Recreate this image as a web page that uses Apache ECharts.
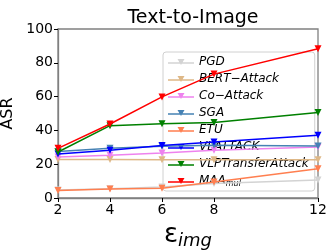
<!DOCTYPE html>
<html><head><meta charset="utf-8">
<script src="https://cdn.jsdelivr.net/npm/echarts@6/dist/echarts.min.js"></script>
<style>html,body{margin:0;padding:0;background:#fff}#c{width:335px;height:251px}</style>
</head><body><div id="c"></div>
<script>
var xValues = [2, 4, 6, 8, 12];
var xTicks = [2, 4, 6, 8, 12];
var yTicks = [0, 20, 40, 60, 80, 100];
var seriesNames = ['PGD', 'BERT\u2212Attack', 'Co\u2212Attack', 'SGA', 'ETU', 'VLATTACK', 'VLPTransferAttack', 'MAA'];
var pgd = [4.7, 5.5, 6.5, 8.6, 10.7];
var bertAttack = [22.8, 22.8, 22.6, 22.6, 22.6];
var coAttack = [24.2, 25.3, 26.7, 28.2, 30.2];
var sga = [27.5, 29.5, 30.6, 31.2, 30.8];
var etu = [4.5, 5.3, 5.8, 9.4, 17.3];
var vlattack = [26, 28.2, 31, 33.2, 37.2];
var vlpTransfer = [27.2, 42.8, 44, 44.7, 50.6];
var maa = [29.4, 43.8, 59.8, 73.3, 88.3];
var colors = ['#d3d3d3', '#deb887', '#ee82ee', '#4682b4', '#ff7f50', '#0000ff', '#008000', '#ff0000'];
var allData = [pgd, bertAttack, coAttack, sga, etu, vlattack, vlpTransfer, maa];

var series = allData.map(function (vals, i) {
  return {
    name: seriesNames[i],
    type: 'line',
    data: vals.map(function (v, j) { return [xValues[j], v]; }),
    symbol: 'triangle',
    symbolRotate: 180,
    symbolSize: 7,
    lineStyle: { width: 1.5, color: colors[i] },
    itemStyle: { color: colors[i] },
    z: 5 + i
  };
});

var chart = echarts.init(document.getElementById('c'), null, { renderer: 'canvas' });
chart.setOption({
  animation: false,
  backgroundColor: '#fff',
  title: {
    text: 'Text-to-Image', left: 188, textAlign: 'center', top: 4,
    textStyle: { fontFamily: 'DejaVu Sans', fontSize: 19, fontWeight: 'normal', color: '#000' }
  },
  grid: { left: 58, right: 17, top: 29, bottom: 53, outerBoundsMode: 'none', containLabel: false, show: true, borderColor: '#808080', borderWidth: 1.3, backgroundColor: 'transparent' },
  legend: {
    orient: 'vertical', left: 163, top: 52, width: 150, height: 141,
    itemGap: 3, itemWidth: 26, itemHeight: 14,
    padding: [3, 6, 3, 5],
    z: 3,
    backgroundColor: 'rgba(255,255,255,0.82)', borderColor: '#d0d0d0', borderWidth: 1, borderRadius: 3,
    data: seriesNames.map(function (n, i) {
      return { name: n, icon: 'path://M0,6.3L26,6.3L26,7.7L0,7.7Z M9.5,3L16.5,3L13,9Z', itemStyle: { color: colors[i] } };
    }),
    formatter: function (n) { return n === 'MAA' ? '{i|MAA}{s|mul}' : '{i|' + n + '}'; },
    textStyle: {
      fontFamily: 'DejaVu Sans', fontSize: 12, color: '#000', lineHeight: 14,
      rich: {
        i: { fontFamily: 'DejaVu Sans', fontStyle: 'italic', fontSize: 12, color: '#000', lineHeight: 14 },
        s: { fontFamily: 'DejaVu Sans', fontStyle: 'italic', fontSize: 8, color: '#000', padding: [6, 0, 0, 0], lineHeight: 14 }
      }
    }
  },
  xAxis: {
    type: 'value', min: 2, max: 12, interval: 2,
    name: '{e|\u03b5}{s|img}', nameLocation: 'middle', nameGap: 21,
    nameTextStyle: {
      rich: {
        e: { fontFamily: 'DejaVu Sans', fontSize: 26, color: '#000' },
        s: { fontFamily: 'DejaVu Sans', fontStyle: 'italic', fontSize: 18, color: '#000', padding: [12, 0, 0, 0] }
      }
    },
    axisLine: { show: true, lineStyle: { color: '#808080', width: 1.3 } },
    axisTick: { show: true, length: 4, customValues: xTicks, lineStyle: { color: '#000' } },
    axisLabel: { customValues: xTicks, fontFamily: 'DejaVu Sans', fontSize: 14, color: '#000', margin: 5 },
    splitLine: { show: false }
  },
  yAxis: {
    type: 'value', min: 0, max: 100, interval: 20,
    name: 'ASR', nameLocation: 'middle', nameGap: 34, nameRotate: 90,
    nameTextStyle: { fontFamily: 'DejaVu Sans', fontSize: 16, color: '#000' },
    axisLine: { show: true, lineStyle: { color: '#808080', width: 1.3 } },
    axisTick: { show: true, length: 4, customValues: yTicks, lineStyle: { color: '#000' } },
    axisLabel: { customValues: yTicks, fontFamily: 'DejaVu Sans', fontSize: 14, color: '#000', margin: 5 },
    splitLine: { show: false }
  },
  series: series
});
</script></body></html>
